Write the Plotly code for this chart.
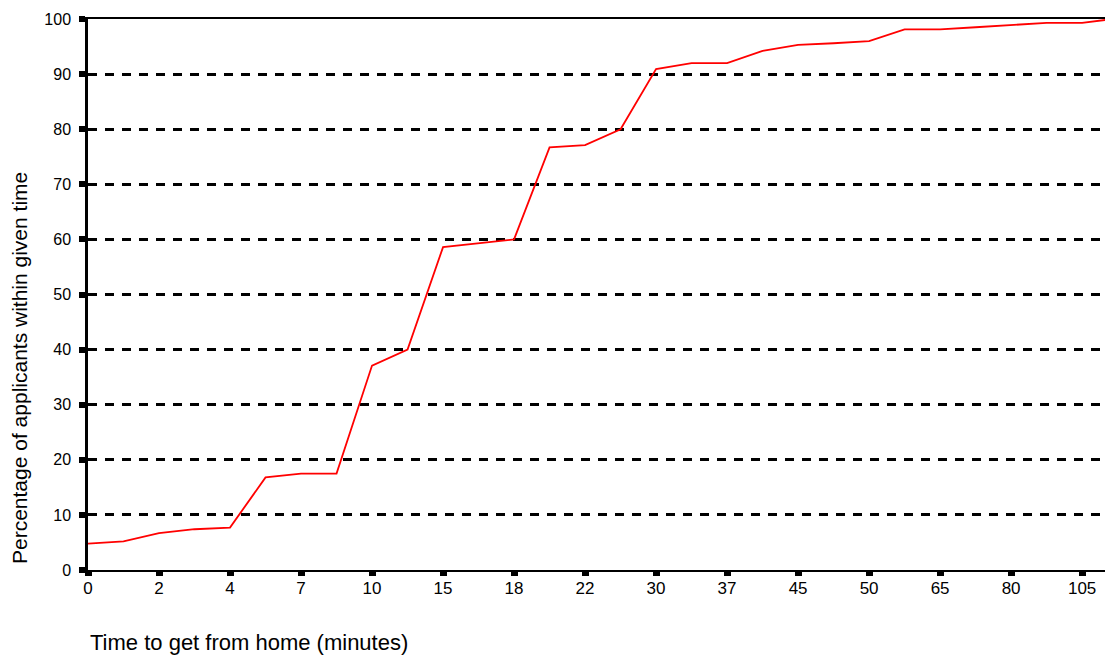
import plotly.graph_objects as go

# Time categories (minutes); only every other one is labelled on the axis
times = ["0", "1", "2", "3", "4", "5", "7", "8", "10", "12", "15", "17", "18", "20",
         "22", "25", "30", "35", "37", "40", "45", "47", "50", "60", "65", "70",
         "80", "90", "105", "120"]
percent = [4.8, 5.2, 6.7, 7.4, 7.7, 16.8, 17.5, 17.5, 37.1, 40.0, 58.6, 59.3, 60.0, 76.7,
           77.1, 80.0, 90.9, 92.0, 92.0, 94.2, 95.3, 95.6, 96.0, 98.1, 98.1, 98.5,
           98.9, 99.3, 99.3, 100.1]
labelled_times = ["0", "2", "4", "7", "10", "15", "18", "22", "30", "37", "45", "50",
                  "65", "80", "105"]
y_ticks = [0, 10, 20, 30, 40, 50, 60, 70, 80, 90, 100]

FONT = "Liberation Sans, Arial, sans-serif"

fig = go.Figure()
fig.add_trace(go.Scatter(
    x=times, y=percent, mode="lines",
    line=dict(color="#ff0000", width=1.8),
    showlegend=False,
))

fig.update_layout(
    width=1105, height=648,
    margin=dict(l=80, r=0, t=11, b=86),
    paper_bgcolor="white", plot_bgcolor="white",
    font=dict(family=FONT, size=16, color="black"),
    xaxis=dict(
        type="category",
        categoryorder="array", categoryarray=times,
        range=[0, 28.87],
        tickmode="array", tickvals=labelled_times, ticktext=labelled_times,
        ticks="outside", ticklen=4, tickwidth=7, tickcolor="black",
        ticklabelstandoff=-3,
        showline=True, linecolor="black", linewidth=2.3, mirror=True,
        showgrid=False, zeroline=False,
        tickfont=dict(family=FONT, size=17),
    ),
    yaxis=dict(
        range=[0, 100],
        tickmode="array", tickvals=y_ticks,
        ticks="outside", ticklen=6, tickwidth=6, tickcolor="black",
        ticklabelstandoff=5,
        showline=True, linecolor="black", linewidth=2.5, mirror=False,
        showgrid=True, gridcolor="black", gridwidth=2.5, griddash="9px,8px",
        zeroline=False,
        tickfont=dict(family=FONT, size=16),
    ),
    annotations=[
        dict(
            text="Time to get from home (minutes)",
            xref="paper", yref="paper", x=0, y=0, xanchor="left", yanchor="middle",
            yshift=-72, showarrow=False,
            font=dict(family=FONT, size=22, color="black"),
        ),
        dict(
            text="Percentage of applicants within given time",
            xref="paper", yref="paper", x=0, y=0.3666, xanchor="center",
            yanchor="middle", xshift=-69, textangle=-90, showarrow=False,
            font=dict(family=FONT, size=21, color="black"),
        ),
    ],
)

fig.write_html("out.html")
